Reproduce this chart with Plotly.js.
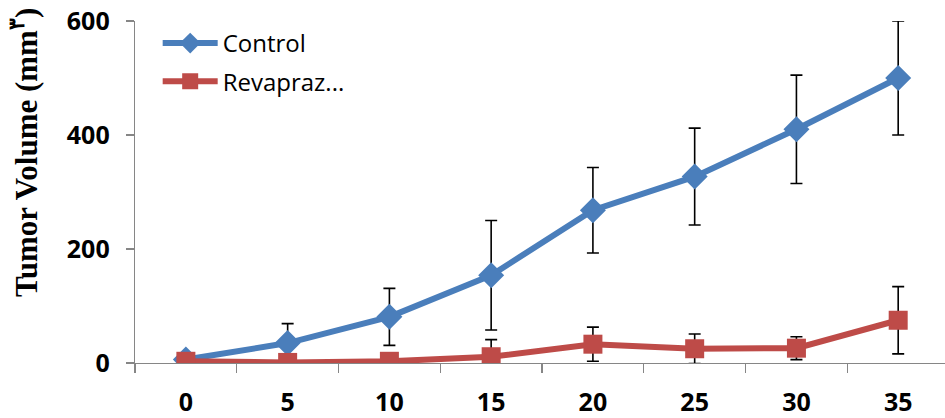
<!DOCTYPE html>
<html>
<head>
<meta charset="utf-8">
<script src="https://cdn.plot.ly/plotly-3.0.1.min.js"></script>
<style>html,body{margin:0;padding:0;background:#fff;}</style>
</head>
<body>
<div id="chart" style="width:945px;height:418px;"></div>
<script>
const days = ["0", "5", "10", "15", "20", "25", "30", "35"];
const controlValues = [6, 35, 81, 154, 268, 327, 410, 500];
const controlErrors = [5, 34, 50, 96, 75, 85, 95, 100];
const revaprazValues = [3, 1, 3, 11, 33, 25, 26, 75];
const revaprazErrors = [2, 2, 3, 30, 30, 26, 20, 59];
const yTicks = [0, 200, 400, 600];
const seriesNames = ["Control", "Revapraz..."];
const yTitle = "Tumor Volume (mm<sup>۳</sup>)";

const traces = [
  {
    x: days, y: controlValues, name: seriesNames[0], type: "scatter", mode: "lines+markers",
    line: {color: "#4A7EBB", width: 6},
    marker: {symbol: "diamond", size: 20, color: "#4A7EBB"},
    error_y: {type: "data", array: controlErrors, visible: true, color: "#000", thickness: 1.6, width: 6},
    legendgroup: "a"
  },
  {
    x: days, y: revaprazValues, name: seriesNames[1], type: "scatter", mode: "lines+markers",
    line: {color: "#BE4B48", width: 6},
    marker: {symbol: "square", size: 19, color: "#BE4B48"},
    error_y: {type: "data", array: revaprazErrors, visible: true, color: "#000", thickness: 1.6, width: 6},
    legendgroup: "b"
  }
];

const layout = {
  width: 945, height: 418,
  margin: {l: 135, r: 0, t: 21, b: 55},
  paper_bgcolor: "#fff", plot_bgcolor: "#fff",
  showlegend: true,
  legend: {
    x: 0.028, y: 1.0, xanchor: "left", yanchor: "top",
    font: {family: "Open Sans, sans-serif", size: 24, color: "#000"},
    bgcolor: "rgba(0,0,0,0)", itemwidth: 55, tracegroupgap: 4, traceorder: "grouped"
  },
  xaxis: {
    type: "category", range: [-0.5, 7.46],
    showline: true, linecolor: "#868686", linewidth: 1.3,
    ticks: "outside", tickson: "boundaries", ticklen: 9, tickcolor: "#868686", tickwidth: 1.3,
    showgrid: false, zeroline: false,
    tickfont: {family: "Open Sans, sans-serif", size: 25, color: "#000", weight: "bold"},
    ticklabelstandoff: 17
  },
  yaxis: {
    range: [0, 600], tickvals: yTicks, ticktext: yTicks.map(String),
    showline: true, linecolor: "#868686", linewidth: 1.3,
    ticks: "outside", ticklen: 8, tickcolor: "#868686", tickwidth: 1.3,
    showgrid: false, zeroline: false,
    tickfont: {family: "Open Sans, sans-serif", size: 25, color: "#000", weight: "bold"},
    ticklabelstandoff: 11
  },
  annotations: [{
    text: yTitle, xref: "paper", yref: "paper", x: -0.137, y: 0.614,
    xanchor: "center", yanchor: "middle", textangle: -90, showarrow: false,
    font: {family: "Liberation Serif, Times New Roman, serif", size: 31, color: "#000", weight: "bold"}
  }]
};

Plotly.newPlot("chart", traces, layout, {displayModeBar: false, staticPlot: true});
</script>
</body>
</html>
